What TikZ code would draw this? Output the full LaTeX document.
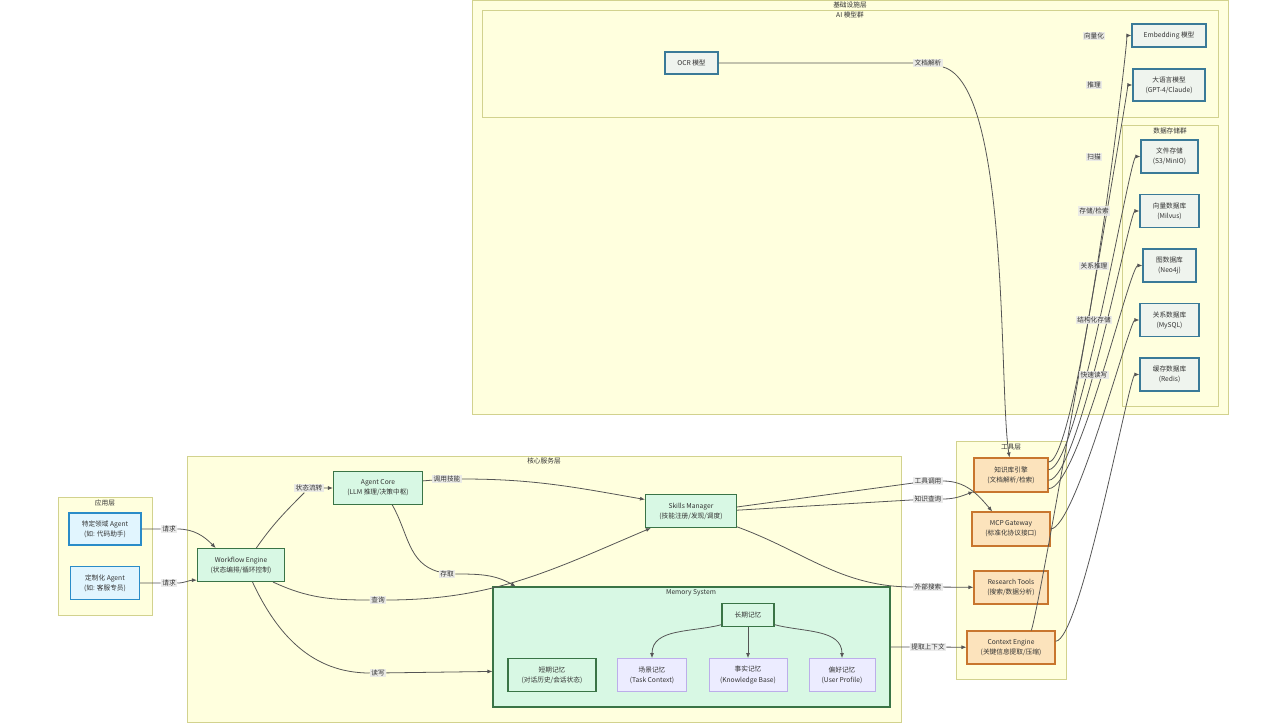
\documentclass[tikz,border=0pt]{standalone}
\usepackage{fontspec}
\setmainfont{Noto Sans CJK SC}
\usetikzlibrary{arrows.meta}

\definecolor{layfill}{HTML}{FFFFDE}
\definecolor{laybd}{HTML}{D2D28E}
\definecolor{appfill}{HTML}{E1F5FE}
\definecolor{appbd}{HTML}{2A8CC8}
\definecolor{inffill}{HTML}{EFF4EE}
\definecolor{infbd}{HTML}{3A7A98}
\definecolor{corefill}{HTML}{D8F8E4}
\definecolor{corebd}{HTML}{3A7446}
\definecolor{toolfill}{HTML}{FCE3BC}
\definecolor{toolbd}{HTML}{C8762E}
\definecolor{memfill}{HTML}{ECECFF}
\definecolor{membd}{HTML}{BCAEEA}
\definecolor{txt}{HTML}{333333}
\definecolor{edgec}{HTML}{555555}
\definecolor{lblbg}{HTML}{E8E8E8}

\tikzset{
  wh/.style 2 args={minimum width=#1*0.02cm, minimum height=#2*0.02cm},
  layer/.style={draw=laybd, fill=layfill, line width=0.5pt},
  title/.style={text=txt, inner sep=0pt},
  base/.style={align=center, inner sep=0pt, text=txt, line width=0.6pt},
  appbox/.style={base, draw=appbd, fill=appfill},
  infbox/.style={base, draw=infbd, fill=inffill},
  corebox/.style={base, draw=corebd, fill=corefill},
  toolbox/.style={base, draw=toolbd, fill=toolfill},
  membox/.style={base, draw=membd, fill=memfill, line width=0.45pt},
  elabel/.style={fill=lblbg, fill opacity=0.85, text opacity=1, text=txt, inner sep=0.7pt},
  edge/.style={draw=edgec, line width=0.45pt, -{Latex[length=1mm,width=0.8mm]}},
}

\begin{document}
\begin{tikzpicture}[x=0.02cm, y=-0.02cm, font=\fontsize{3.8}{5.7}\selectfont]
\useasboundingbox (0,0) rectangle (1280,726);
\fill[white] (0,0) rectangle (1280,726);

% layers
\draw[layer] (472,0) rectangle (1228,414);
\draw[layer] (482,10) rectangle (1218,117);
\draw[layer] (1122,125) rectangle (1218,406);
\draw[layer] (956,441) rectangle (1066,679);
\draw[layer] (187,456) rectangle (901,722);
\draw[layer] (58,497) rectangle (152,615);

\node[title] (tinf) at (850,5) {基础设施层};
\node[title] (tai) at (850,15) {AI 模型群};
\node[title] (tdb) at (1170,131) {数据存储群};
\node[title] (ttool) at (1011,447) {工具层};
\node[title] (tcore) at (544,461) {核心服务层};
\node[title] (tapp) at (105,503) {应用层};

% application layer
\node[appbox, wh={72}{32}] (a1) at (105,529) {特定领域 Agent\\(如: 代码助手)};
\node[appbox, wh={69}{33}] (a2) at (105,583) {定制化 Agent\\(如: 客服专员)};

% core services
\node[corebox, wh={87}{33}] (wf) at (241,565) {Workflow Engine\\(状态编排/循环控制)};
\node[corebox, wh={89}{33}] (ac) at (378,488) {Agent Core\\(LLM 推理/决策中枢)};
\node[corebox, wh={91}{33}] (sm) at (691,511) {Skills Manager\\(技能注册/发现/调度)};
\node[corebox, wh={397}{120}] (mem) at (691.5,647) {};
\node[title] (tmem) at (691,593) {Memory System};
\node[corebox, wh={52}{23}] (lt) at (748,615) {长期记忆};
\node[corebox, wh={88}{33}] (st) at (552,675) {短期记忆\\(对话历史/会话状态)};
\node[membox, wh={69}{33}] (cj) at (652,675) {场景记忆\\(Task Context)};
\node[membox, wh={78}{33}] (sj) at (748,675) {事实记忆\\(Knowledge Base)};
\node[membox, wh={66}{33}] (ph) at (842,675) {偏好记忆\\(User Profile)};

% tools
\node[toolbox, wh={74}{34}] (kb) at (1011,475) {知识库引擎\\(文档解析/检索)};
\node[toolbox, wh={78}{34}] (mcp) at (1011,529) {MCP Gateway\\(标准化协议接口)};
\node[toolbox, wh={74}{33}] (rt) at (1011,587.5) {Research Tools\\(搜索/数据分析)};
\node[toolbox, wh={88}{33}] (ce) at (1011,647.5) {Context Engine\\(关键信息提取/压缩)};

% infrastructure
\node[infbox, wh={53}{22}] (ocr) at (691.5,63) {OCR 模型};
\node[infbox, wh={74}{23}] (emb) at (1169,35.5) {Embedding 模型};
\node[infbox, wh={72}{32}] (llm) at (1169,85) {大语言模型\\(GPT-4/Claude)};
\node[infbox, wh={57}{33}] (fs) at (1169.5,156.5) {文件存储\\(S3/MinIO)};
\node[infbox, wh={59}{33}] (vdb) at (1169.5,211) {向量数据库\\(Milvus)};
\node[infbox, wh={53}{33}] (gdb) at (1169.5,265.5) {图数据库\\(Neo4j)};
\node[infbox, wh={59}{33}] (rdb) at (1169.5,320) {关系数据库\\(MySQL)};
\node[infbox, wh={59}{33}] (cdb) at (1169.5,374.5) {缓存数据库\\(Redis)};

% edge labels on the way
\node[elabel] (l1) at (169,529) {请求};
\node[elabel] (l2) at (169,583) {请求};
\node[elabel] (l3) at (309,488) {状态流转};
\node[elabel] (l4) at (447,479) {调用技能};
\node[elabel] (l5) at (447,574) {存取};
\node[elabel] (l6) at (378,600) {查询};
\node[elabel] (l7) at (378,673) {读写};
\node[elabel] (l8) at (928,481) {工具调用};
\node[elabel] (l9) at (928,499) {知识查询};
\node[elabel] (l10) at (928,587) {外部搜索};
\node[elabel] (l11) at (928,647) {提取上下文};
\node[elabel] (l12) at (928,63) {文档解析};

\draw[edge] (a1) -- (l1) to[out=0,in=135] (wf.146);
\draw[edge] (a2) -- (l2) to[out=0,in=180] (wf.199);
\draw[edge] (wf.48) to[out=55,in=225] (l3) -- (ac);
\draw[edge] (ac.9) -- (l4) to[out=0,in=170] (sm.166);
\draw[edge] (ac.-50) to[out=-60,in=165] (l5) to[out=0,in=150] (mem.161);
\draw[edge] (wf.-28) to[out=-25,in=180] (l6) to[out=0,in=203] (sm.203);
\draw[edge] (wf.-56) to[out=-65,in=180] (l7) -- (mem.187.5);
\draw[edge] (sm.5) -- (l8) to[out=0,in=130] (mcp.137);
\draw[edge] (sm.1) -- (l9) to[out=0,in=200] (kb.204);
\draw[edge] (sm.-19) to[out=-20,in=180] (l10) -- (rt);
\draw[edge] (mem) -- (l11) -- (ce);
\draw[edge] (ocr) -- (l12) to[out=-15,in=99,looseness=0.45] (kb.95);

\draw[edge] (lt.200) to[out=195,in=90] (cj);
\draw[edge] (lt) -- (sj);
\draw[edge] (lt.-20) to[out=-15,in=90] (ph);

% tools to infrastructure
\draw[edge] (kb.19) .. controls +(30,0) and +(-40,0) .. (emb);
\draw[edge] (kb.8) .. controls +(30,0) and +(-40,0) .. (fs);
\draw[edge] (kb.-8) .. controls +(30,0) and +(-40,0) .. (vdb);
\draw[edge] (kb.-20) .. controls +(30,0) and +(-40,0) .. (gdb);
\draw[edge] (mcp.east) .. controls +(25,0) and +(-40,0) .. (rdb);
\draw[edge] (ce.40) .. controls +(10,-30) and +(-40,0) .. (llm);
\draw[edge] (ce.8) .. controls +(25,0) and +(-40,0) .. (cdb);

\node[elabel] (l13) at (1094,36) {向量化};
\node[elabel] (l14) at (1094,85) {推理};
\node[elabel] (l15) at (1094,157) {扫描};
\node[elabel] (l16) at (1094,211) {存储/检索};
\node[elabel] (l17) at (1094,266) {关系推理};
\node[elabel] (l18) at (1094,320) {结构化存储};
\node[elabel] (l19) at (1094,375) {快速读写};
\end{tikzpicture}
\end{document}
